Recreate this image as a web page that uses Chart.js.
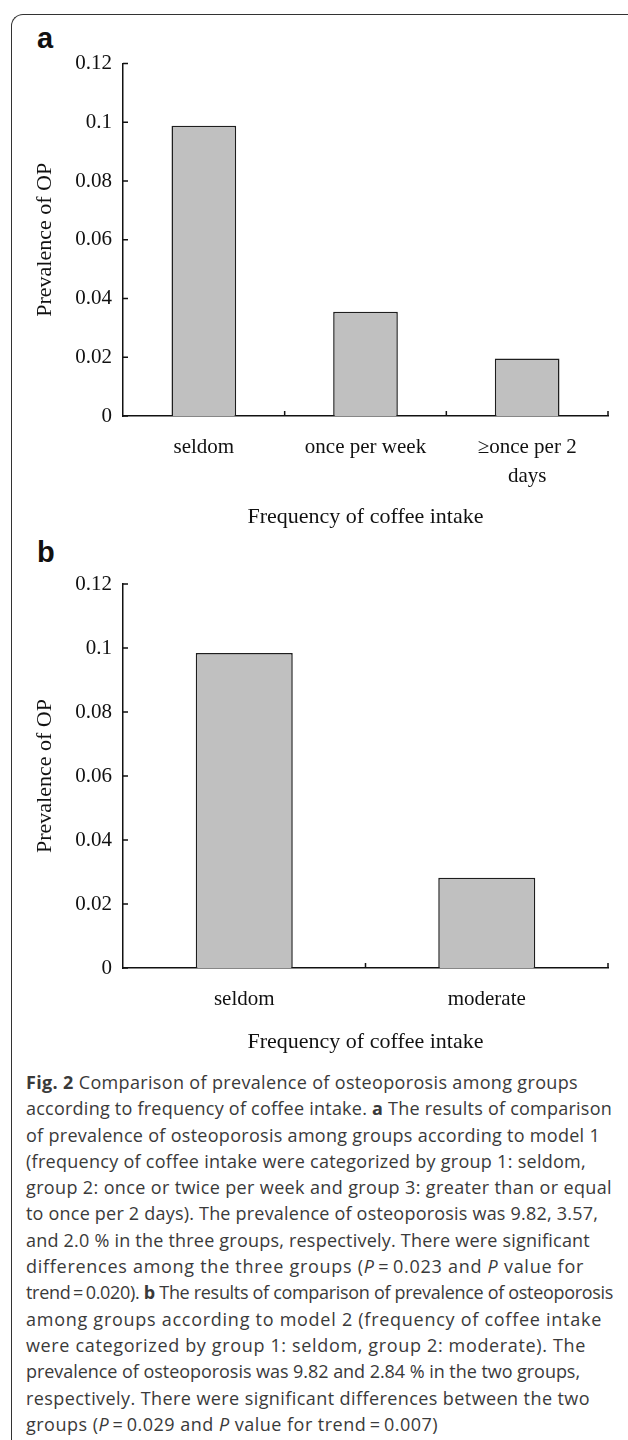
<!DOCTYPE html>
<html>
<head>
<meta charset="utf-8">
<script src="https://cdn.jsdelivr.net/npm/chart.js@4.4.0/dist/chart.umd.min.js"></script>
<style>
  html, body { margin: 0; padding: 0; background: #fff; }
  body { width: 628px; height: 1440px; position: relative; overflow: hidden; }
  #frame { position: absolute; left: 11px; top: 14px; width: 700px; height: 1500px;
           border-left: 1.5px solid #333; border-top: 1.5px solid #333; border-top-left-radius: 12px; }
  .panel { position: absolute; left: 37px; font: bold 29px "Liberation Sans", Arial, sans-serif; color: #111; }
  .wrap { position: absolute; left: 0; width: 628px; height: 500px; }
  #caption { position: absolute; left: 26px; top: 1069px; font: 18px "Open Sans", sans-serif;
             color: #3a3a3a; line-height: 26.3px; }
  #caption div { white-space: nowrap; }
</style>
</head>
<body>
<div id="frame"></div>
<div class="panel" style="top:22px">a</div>
<div class="panel" style="top:536px">b</div>
<div class="wrap" style="top:40px"><canvas id="chartA"></canvas></div>
<div class="wrap" style="top:560px"><canvas id="chartB"></canvas></div>
<div id="caption">
  <div data-w="552"><b>Fig. 2</b> Comparison of prevalence of osteoporosis among groups</div>
  <div data-w="586">according to frequency of coffee intake. <b>a</b> The results of comparison</div>
  <div data-w="574">of prevalence of osteoporosis among groups according to model 1</div>
  <div data-w="560">(frequency of coffee intake were categorized by group 1: seldom,</div>
  <div data-w="586">group 2: once or twice per week and group 3: greater than or equal</div>
  <div data-w="572">to once per 2 days). The prevalence of osteoporosis was 9.82, 3.57,</div>
  <div data-w="564">and 2.0 % in the three groups, respectively. There were significant</div>
  <div data-w="558">differences among the three groups (<i>P</i>&#8201;=&#8201;0.023 and <i>P</i> value for</div>
  <div data-w="587">trend&#8201;=&#8201;0.020). <b>b</b> The results of comparison of prevalence of osteoporosis</div>
  <div data-w="576">among groups according to model 2 (frequency of coffee intake</div>
  <div data-w="560">were categorized by group 1: seldom, group 2: moderate). The</div>
  <div data-w="554">prevalence of osteoporosis was 9.82 and 2.84 % in the two groups,</div>
  <div data-w="564">respectively. There were significant differences between the two</div>
  <div data-w="412">groups (<i>P</i>&#8201;=&#8201;0.029 and <i>P</i> value for trend&#8201;=&#8201;0.007)</div>
</div>
<script>
// panel a: three groups
const catsA = ['seldom', 'once per week', ['\u2265once per 2', 'days']];
const prevA = [0.0988, 0.0355, 0.0196];
// panel b: two groups
const catsB = ['seldom', 'moderate'];
const prevB = [0.0984, 0.0282];
const yTicks = [0, 0.02, 0.04, 0.06, 0.08, 0.1, 0.12];

const serif = '"Liberation Serif", "Times New Roman", serif';

// small tick marks pointing into the plot, like the original
const innerTicks = {
  id: 'innerTicks',
  afterDraw(chart) {
    const { ctx, scales: { x, y } } = chart;
    ctx.save();
    ctx.strokeStyle = '#111';
    ctx.lineWidth = 1.5;
    ctx.beginPath();
    y.ticks.forEach((t, i) => {
      const py = y.getPixelForTick(i);
      ctx.moveTo(x.left, py);
      ctx.lineTo(x.left + 5, py);
    });
    for (let i = 1; i <= x.ticks.length; i++) {
      const px = x.getPixelForValue(i - 0.5);
      ctx.moveTo(px, y.bottom);
      ctx.lineTo(px, y.bottom - 5);
    }
    ctx.stroke();
    ctx.restore();
  }
};

function makeChart(id, labels, values, padTop, xHeight, titlePad) {
  return new Chart(document.getElementById(id), {
    type: 'bar',
    data: {
      labels: labels,
      datasets: [{
        data: values,
        backgroundColor: '#c0c0c0',
        borderColor: '#1e1e1e',
        borderWidth: 1.5,
        categoryPercentage: 1,
        barPercentage: 0.4
      }]
    },
    options: {
      responsive: false,
      animation: false,
      events: [],
      layout: { padding: { top: padTop, left: 0, right: 20, bottom: 0 } },
      plugins: { legend: { display: false }, tooltip: { enabled: false } },
      scales: {
        x: {
          grid: { display: false, drawTicks: false },
          border: { color: '#111', width: 1.5 },
          ticks: { color: '#111', padding: 17, font: { family: serif, size: 21, lineHeight: 1.38 } },
          title: { display: true, text: 'Frequency of coffee intake', color: '#111',
                   font: { family: serif, size: 22 }, padding: { top: 0, bottom: titlePad } },
          afterFit: s => { s.height = xHeight; }
        },
        y: {
          min: 0, max: 0.12,
          grid: { display: false, drawTicks: false },
          border: { color: '#111', width: 1.5 },
          afterBuildTicks: s => { s.ticks = yTicks.map(v => ({ value: v })); },
          ticks: { color: '#111', padding: 11, font: { family: serif, size: 21 },
                   callback: v => String(+v.toFixed(2)) },
          title: { display: true, text: 'Prevalence of OP', color: '#111',
                   font: { family: serif, size: 22 }, padding: { top: 32, bottom: 0 } },
          afterFit: s => { s.width = 123; }
        }
      }
    },
    plugins: [innerTicks]
  });
}

for (const c of document.querySelectorAll('canvas')) { c.width = 628; c.height = 500; }
makeChart('chartA', catsA, prevA, 20, 124, 10);
makeChart('chartB', catsB, prevB, 24, 92, 5);

// stretch / squeeze each caption line to the width it has in the figure
for (const line of document.querySelectorAll('#caption div')) {
  line.style.display = 'inline-block';
  const w = line.getBoundingClientRect().width;
  const n = line.textContent.length;
  line.style.letterSpacing = ((+line.dataset.w - w) / n) + 'px';
  line.style.display = 'block';
}
</script>
</body>
</html>
